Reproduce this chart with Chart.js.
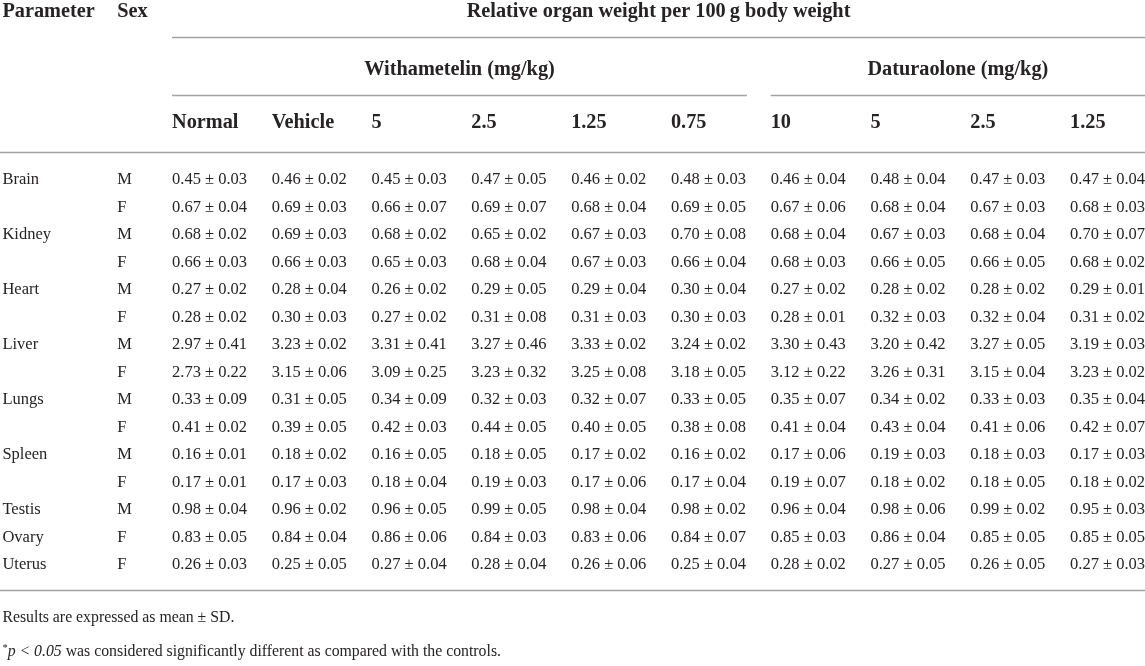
<!DOCTYPE html>
<html>
<head>
<meta charset="utf-8">
<script src="https://cdn.jsdelivr.net/npm/chart.js@4.4.1/dist/chart.umd.min.js"></script>
<style>
  html, body { margin: 0; padding: 0; background: #fff; }
  #wrap { width: 1145px; height: 666px; position: relative; }
</style>
</head>
<body>
<div id="wrap"><canvas id="tableChart"></canvas></div>
<script>
// ---- table data ----
const organs = ['Brain', '', 'Kidney', '', 'Heart', '', 'Liver', '', 'Lungs', '', 'Spleen', '', 'Testis', 'Ovary', 'Uterus'];
const sexes = ['M', 'F', 'M', 'F', 'M', 'F', 'M', 'F', 'M', 'F', 'M', 'F', 'M', 'F', 'F'];
const doseLabels = ['Normal', 'Vehicle', '5', '2.5', '1.25', '0.75', '10', '5', '2.5', '1.25'];
const groupLabels = ['Withametelin (mg/kg)', 'Daturaolone (mg/kg)'];

const means = [
  [0.45, 0.46, 0.45, 0.47, 0.46, 0.48, 0.46, 0.48, 0.47, 0.47],
  [0.67, 0.69, 0.66, 0.69, 0.68, 0.69, 0.67, 0.68, 0.67, 0.68],
  [0.68, 0.69, 0.68, 0.65, 0.67, 0.70, 0.68, 0.67, 0.68, 0.70],
  [0.66, 0.66, 0.65, 0.68, 0.67, 0.66, 0.68, 0.66, 0.66, 0.68],
  [0.27, 0.28, 0.26, 0.29, 0.29, 0.30, 0.27, 0.28, 0.28, 0.29],
  [0.28, 0.30, 0.27, 0.31, 0.31, 0.30, 0.28, 0.32, 0.32, 0.31],
  [2.97, 3.23, 3.31, 3.27, 3.33, 3.24, 3.30, 3.20, 3.27, 3.19],
  [2.73, 3.15, 3.09, 3.23, 3.25, 3.18, 3.12, 3.26, 3.15, 3.23],
  [0.33, 0.31, 0.34, 0.32, 0.32, 0.33, 0.35, 0.34, 0.33, 0.35],
  [0.41, 0.39, 0.42, 0.44, 0.40, 0.38, 0.41, 0.43, 0.41, 0.42],
  [0.16, 0.18, 0.16, 0.18, 0.17, 0.16, 0.17, 0.19, 0.18, 0.17],
  [0.17, 0.17, 0.18, 0.19, 0.17, 0.17, 0.19, 0.18, 0.18, 0.18],
  [0.98, 0.96, 0.96, 0.99, 0.98, 0.98, 0.96, 0.98, 0.99, 0.95],
  [0.83, 0.84, 0.86, 0.84, 0.83, 0.84, 0.85, 0.86, 0.85, 0.85],
  [0.26, 0.25, 0.27, 0.28, 0.26, 0.25, 0.28, 0.27, 0.26, 0.27]
];

const sds = [
  [0.03, 0.02, 0.03, 0.05, 0.02, 0.03, 0.04, 0.04, 0.03, 0.04],
  [0.04, 0.03, 0.07, 0.07, 0.04, 0.05, 0.06, 0.04, 0.03, 0.03],
  [0.02, 0.03, 0.02, 0.02, 0.03, 0.08, 0.04, 0.03, 0.04, 0.07],
  [0.03, 0.03, 0.03, 0.04, 0.03, 0.04, 0.03, 0.05, 0.05, 0.02],
  [0.02, 0.04, 0.02, 0.05, 0.04, 0.04, 0.02, 0.02, 0.02, 0.01],
  [0.02, 0.03, 0.02, 0.08, 0.03, 0.03, 0.01, 0.03, 0.04, 0.02],
  [0.41, 0.02, 0.41, 0.46, 0.02, 0.02, 0.43, 0.42, 0.05, 0.03],
  [0.22, 0.06, 0.25, 0.32, 0.08, 0.05, 0.22, 0.31, 0.04, 0.02],
  [0.09, 0.05, 0.09, 0.03, 0.07, 0.05, 0.07, 0.02, 0.03, 0.04],
  [0.02, 0.05, 0.03, 0.05, 0.05, 0.08, 0.04, 0.04, 0.06, 0.07],
  [0.01, 0.02, 0.05, 0.05, 0.02, 0.02, 0.06, 0.03, 0.03, 0.03],
  [0.01, 0.03, 0.04, 0.03, 0.06, 0.04, 0.07, 0.02, 0.05, 0.02],
  [0.04, 0.02, 0.05, 0.05, 0.04, 0.02, 0.04, 0.06, 0.02, 0.03],
  [0.05, 0.04, 0.06, 0.03, 0.06, 0.07, 0.03, 0.04, 0.05, 0.05],
  [0.03, 0.05, 0.04, 0.04, 0.06, 0.04, 0.02, 0.05, 0.05, 0.03]
];

// ---- layout (scale units: columns on x, rows on y) ----
const PARAM_COL = 0.3;
const SEX_COL = 1.45;
const FIRST_DOSE_COL = 2;
const ROW_TITLE = -6.11;
const ROW_GROUP = -4.0;
const ROW_DOSE = -2.07;
const RULE_TITLE = -5.2;
const RULE_GROUP = -3.09;
const RULE_HEAD = -1.02;
const RULE_BOTTOM = 14.91;
const ROW_NOTE1 = 15.93;
const ROW_NOTE2 = 17.16;

const TEXT = '#262324';
const RULE = '#a3a3a3';
const SERIF = '"Liberation Serif", "DejaVu Serif", serif';

// one invisible point per body cell, text drawn at its pixel position
const cellPoints = [];
organs.forEach((org, r) => {
  cellPoints.push({ x: PARAM_COL, y: r, text: org });
  cellPoints.push({ x: SEX_COL, y: r, text: sexes[r] });
  means[r].forEach((m, c) => {
    cellPoints.push({ x: FIRST_DOSE_COL + c, y: r, text: m.toFixed(2) + ' \u00b1 ' + sds[r][c].toFixed(2) });
  });
});

const headPoints = [
  { x: PARAM_COL, y: ROW_TITLE, text: 'Parameter' },
  { x: SEX_COL, y: ROW_TITLE, text: 'Sex' }
];
doseLabels.forEach((d, c) => headPoints.push({ x: FIRST_DOSE_COL + c, y: ROW_DOSE, text: d }));

const tablePlugin = {
  id: 'tablePlugin',
  afterDatasetsDraw(chart) {
    const ctx = chart.ctx;
    const xs = chart.scales.x;
    const ys = chart.scales.y;
    const X = v => xs.getPixelForValue(v);
    const Y = v => ys.getPixelForValue(v);
    const left = chart.chartArea.left;
    const right = chart.chartArea.right;

    ctx.save();
    ctx.fillStyle = TEXT;
    ctx.textBaseline = 'middle';
    ctx.textAlign = 'left';

    // body cells
    ctx.font = '16.5px ' + SERIF;
    chart.getDatasetMeta(0).data.forEach((el, i) => {
      ctx.fillText(chart.data.datasets[0].data[i].text, el.x, el.y);
    });

    // header cells
    ctx.font = 'bold 20.3px ' + SERIF;
    chart.getDatasetMeta(1).data.forEach((el, i) => {
      ctx.fillText(chart.data.datasets[1].data[i].text, el.x, el.y);
    });

    // spanning headers
    ctx.textAlign = 'center';
    ctx.fillText('Relative organ weight per 100\u2009g body weight', (X(FIRST_DOSE_COL) + right) / 2, Y(ROW_TITLE));
    ctx.fillText(groupLabels[0], (X(FIRST_DOSE_COL) + X(FIRST_DOSE_COL + 5) + 76) / 2, Y(ROW_GROUP));
    ctx.fillText(groupLabels[1], (X(FIRST_DOSE_COL + 6) + right) / 2, Y(ROW_GROUP));

    // rules
    ctx.strokeStyle = RULE;
    ctx.lineWidth = 1.5;
    const rule = (x0, x1, y) => {
      ctx.beginPath();
      ctx.moveTo(x0, Math.round(Y(y)) + 0.5);
      ctx.lineTo(x1, Math.round(Y(y)) + 0.5);
      ctx.stroke();
    };
    rule(X(FIRST_DOSE_COL), right, RULE_TITLE);
    rule(X(FIRST_DOSE_COL), X(FIRST_DOSE_COL + 5) + 76, RULE_GROUP);
    rule(X(FIRST_DOSE_COL + 6), right, RULE_GROUP);
    rule(left, right, RULE_HEAD);
    rule(left, right, RULE_BOTTOM);

    // footnotes
    ctx.textAlign = 'left';
    ctx.font = '15.8px ' + SERIF;
    const nx = X(PARAM_COL);
    ctx.fillText('Results are expressed as mean \u00b1 SD.', nx, Y(ROW_NOTE1));
    let x = nx;
    const y2 = Y(ROW_NOTE2);
    ctx.font = '10.5px ' + SERIF;
    ctx.fillText('*', x, y2 - 4);
    x += ctx.measureText('*').width;
    ctx.font = 'italic 15.8px ' + SERIF;
    ctx.fillText('p < 0.05', x, y2);
    x += ctx.measureText('p < 0.05').width;
    ctx.font = '15.8px ' + SERIF;
    ctx.fillText(' was considered significantly different as compared with the controls.', x, y2);

    ctx.restore();
  }
};

new Chart(document.getElementById('tableChart'), {
  type: 'scatter',
  data: {
    datasets: [
      { label: 'cells', data: cellPoints, pointRadius: 0, pointHoverRadius: 0 },
      { label: 'headers', data: headPoints, pointRadius: 0, pointHoverRadius: 0 }
    ]
  },
  options: {
    responsive: true,
    maintainAspectRatio: false,
    animation: false,
    events: [],
    layout: { padding: 0 },
    plugins: { legend: { display: false }, tooltip: { enabled: false } },
    scales: {
      x: { type: 'linear', display: false, min: 0.276, max: 11.751 },
      y: { type: 'linear', display: false, reverse: true, min: -6.545, max: 17.673 }
    }
  },
  plugins: [tablePlugin]
});
</script>
</body>
</html>
